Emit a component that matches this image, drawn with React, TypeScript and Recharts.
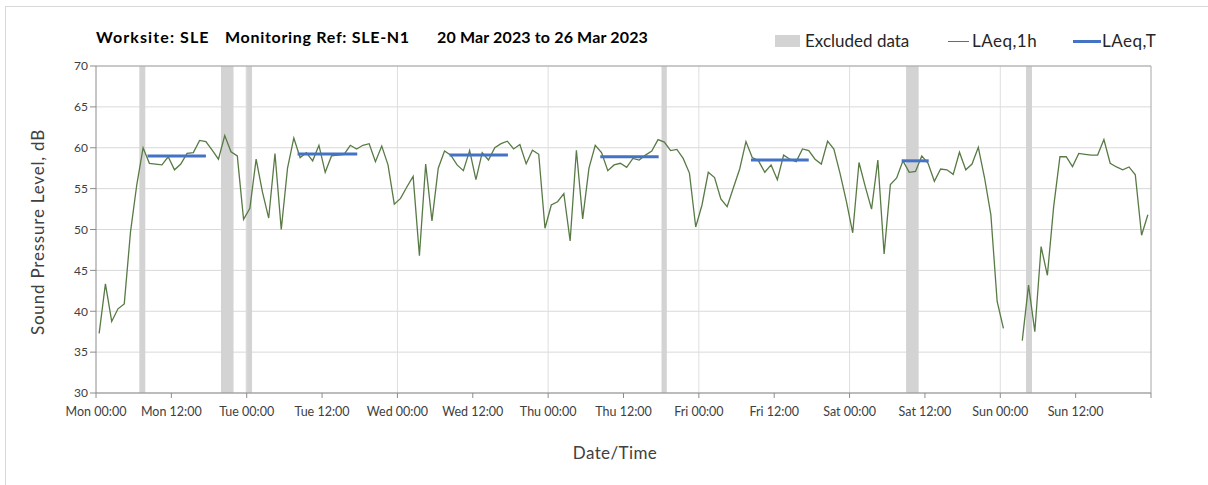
import React from "react";
import {
  ComposedChart,
  Line,
  XAxis,
  YAxis,
  CartesianGrid,
  ReferenceArea,
  ReferenceLine,
} from "recharts";

// Hourly LAeq,1h values, hour 0 = Mon 00:00
const laeq1h: (number | null)[] = [
  37.3, 43.35, 38.75, 40.3, 40.9, 49.75, 55.5, 60.0, 58.1, 58.0, 57.9, 58.9,
  57.3, 58.0, 59.3, 59.4, 60.9, 60.75, 59.7, 58.6, 61.5, 59.5, 59.0, 51.25,
  52.6, 58.6, 54.6, 51.4, 59.3, 50.0, 57.5, 61.2, 58.8, 59.4, 58.4, 60.3,
  57.0, 59.0, 59.1, 59.2, 60.3, 59.85, 60.3, 60.5, 58.3, 60.2, 57.9, 53.1,
  53.8, 55.2, 56.5, 46.8, 58.0, 51.05, 57.5, 59.6, 59.1, 57.9, 57.2, 59.65,
  56.1, 59.4, 58.5, 60.0, 60.5, 60.8, 59.85, 60.4, 58.05, 59.7, 59.2, 50.15,
  53.0, 53.4, 54.4, 48.6, 59.7, 51.3, 57.5, 60.3, 59.4, 57.2, 57.9, 58.1,
  57.6, 58.7, 58.5, 59.1, 59.6, 61.0, 60.7, 59.65, 59.8, 58.7, 56.9, 50.3,
  53.0, 57.0, 56.35, 53.75, 52.8, 55.1, 57.4, 60.75, 58.8, 58.4, 57.0, 57.9,
  56.1, 59.1, 58.6, 58.3, 59.85, 59.65, 58.6, 58.0, 60.8, 59.85, 56.8, 53.4,
  49.6, 58.2, 55.25, 52.5, 58.5, 47.0, 55.5, 56.3, 58.4, 57.0, 57.1, 59.0,
  58.1, 55.9, 57.4, 57.3, 56.75, 59.45, 57.3, 58.0, 60.05, 56.3, 51.8, 41.2,
  37.9, null, null, 36.4, 43.2, 37.5, 47.9, 44.4, 52.8, 58.9, 58.9, 57.7,
  59.3, 59.2, 59.1, 59.1, 61.0, 58.1, 57.65, 57.3, 57.65, 56.7, 49.3, 51.8,
];

// LAeq,T daytime segments (hours from Mon 00:00)
const laeqTStart = [8.2, 32.1, 56.3, 80.3, 104.3, 128.3];
const laeqTEnd = [17.5, 41.6, 65.6, 89.6, 113.5, 132.6];
const laeqTValue = [59.0, 59.25, 59.1, 58.9, 58.5, 58.4];

// Excluded data periods (hours from Mon 00:00)
const excludedStart = [6.9, 19.9, 23.85, 90.05, 129.0, 148.1];
const excludedEnd = [7.85, 21.9, 24.85, 90.9, 131.0, 149.05];

const dayNames = ["Mon", "Tue", "Wed", "Thu", "Fri", "Sat", "Sun"];
const xTicks = [0, 12, 24, 36, 48, 60, 72, 84, 96, 108, 120, 132, 144, 156, 168];
const yTicks = [30, 35, 40, 45, 50, 55, 60, 65, 70];
const dayLines = [24, 48, 72, 96, 120, 144];

const titleParts = ["Worksite: SLE", "Monitoring Ref: SLE-N1", "20 Mar 2023 to 26 Mar 2023"];
const legendLabels = ["Excluded data", "LAeq,1h", "LAeq,T"];

const greenData = laeq1h.map((v, i) => ({ x: i + 0.5, v }));

const FONT = "Lato, 'Open Sans', sans-serif";

const fmtX = (h: number) => {
  if (h >= 168) return "";
  const d = Math.floor(h / 24);
  const hh = h % 24;
  return `${dayNames[d]} ${hh < 10 ? "0" + hh : hh}:00`;
};

const abs = (left: number, top: number, extra: React.CSSProperties = {}): React.CSSProperties => ({
  position: "absolute",
  left,
  top,
  whiteSpace: "pre",
  ...extra,
});

export default function App() {
  return (
    <div
      style={{
        position: "absolute",
        left: 0,
        top: 0,
        width: 1208,
        height: 485,
        background: "#fff",
        fontFamily: FONT,
        overflow: "hidden",
      }}
    >
      <div
        style={{
          position: "absolute",
          left: 5,
          top: 6,
          width: 1220,
          height: 500,
          borderLeft: "1px solid #d9d9d9",
          borderTop: "1px solid #d9d9d9",
        }}
      />
      <ComposedChart
        width={1208}
        height={485}
        margin={{ top: 66, right: 57, bottom: 62, left: 36 }}
      >
        <CartesianGrid horizontal={true} vertical={false} stroke="#d9d9d9" strokeWidth={1} />
        {excludedStart.map((s, i) => (
          <ReferenceArea
            key={"ex" + i}
            x1={s}
            x2={excludedEnd[i]}
            y1={30}
            y2={70}
            fill="#d3d3d3"
            fillOpacity={1}
            stroke="none"
            ifOverflow="hidden"
          />
        ))}
        {dayLines.map((d) => (
          <ReferenceLine key={"d" + d} x={d} stroke="#dedede" strokeWidth={1} />
        ))}
        <ReferenceLine y={70} stroke="#a6a6a6" strokeWidth={1} />
        <ReferenceLine x={168} stroke="#a6a6a6" strokeWidth={1} />
        <XAxis
          type="number"
          dataKey="x"
          domain={[0, 168]}
          ticks={xTicks}
          tickFormatter={fmtX}
          interval={0}
          height={30}
          tickSize={5}
          tickMargin={9}
          stroke="#8c8c8c"
          tick={{ fill: "#404040", fontSize: 12.5, fontFamily: FONT }}
          allowDataOverflow
        />
        <YAxis
          type="number"
          domain={[30, 70]}
          ticks={yTicks}
          interval={0}
          width={60}
          tickSize={6}
          stroke="#8c8c8c"
          tick={{ fill: "#404040", fontSize: 12, fontFamily: FONT }}
          allowDataOverflow
        />
        <Line
          data={greenData}
          dataKey="v"
          type="linear"
          stroke="#587a45"
          strokeWidth={1.3}
          dot={false}
          activeDot={false}
          connectNulls={false}
          isAnimationActive={false}
        />
        {laeqTStart.map((s, i) => (
          <Line
            key={"t" + i}
            data={[
              { x: s, v: laeqTValue[i] },
              { x: laeqTEnd[i], v: laeqTValue[i] },
            ]}
            dataKey="v"
            type="linear"
            stroke="#4472c4"
            strokeWidth={3}
            dot={false}
            activeDot={false}
            isAnimationActive={false}
          />
        ))}
      </ComposedChart>

      {/* Title */}
      <div style={abs(96, 27, { fontSize: 16, fontWeight: 700, color: "#000", letterSpacing: 1.1 })}>{titleParts[0]}</div>
      <div style={abs(225, 27, { fontSize: 16, fontWeight: 700, color: "#000", letterSpacing: 0.7 })}>{titleParts[1]}</div>
      <div style={abs(437, 27, { fontSize: 16, fontWeight: 700, color: "#000", letterSpacing: 0.15 })}>{titleParts[2]}</div>

      {/* Legend */}
      <div style={abs(775, 35, { width: 25, height: 12, background: "#d3d3d3" })} />
      <div style={abs(805, 30, { fontSize: 17, color: "#262626" })}>{legendLabels[0]}</div>
      <div style={abs(948, 41, { width: 21, height: 1.4, background: "#587a45" })} />
      <div style={abs(972, 30, { fontSize: 17, color: "#262626", letterSpacing: 0.5 })}>{legendLabels[1]}</div>
      <div style={abs(1073, 40, { width: 28, height: 3, background: "#4472c4" })} />
      <div style={abs(1102, 30, { fontSize: 17, color: "#262626", letterSpacing: 0.5 })}>{legendLabels[2]}</div>

      {/* Axis titles */}
      <div
        style={abs(37, 232, {
          transform: "translate(-50%, -50%) rotate(-90deg)",
          fontSize: 17,
          color: "#404040",
          letterSpacing: 0.8,
        })}
      >
        Sound Pressure Level, dB
      </div>
      <div
        style={abs(615, 452, {
          transform: "translate(-50%, -50%)",
          fontSize: 17,
          color: "#404040",
          letterSpacing: 0.4,
        })}
      >
        Date/Time
      </div>
    </div>
  );
}
